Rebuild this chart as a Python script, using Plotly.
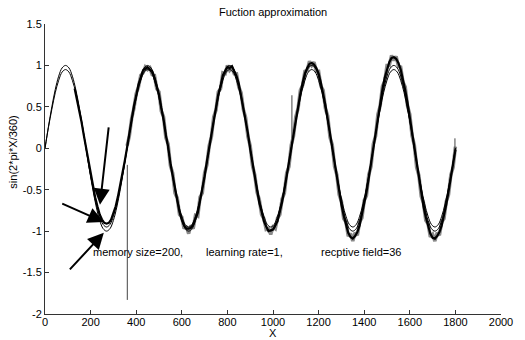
import plotly.graph_objects as go

# ---- data ----
x_fine = list(range(130, 1810, 10))        # 130..1800 step 10
approx_black = [
    0.72, 0.60, 0.47, 0.32, 0.16,
    0.00, -0.16, -0.31, -0.46, -0.59, -0.70, -0.80, -0.86, -0.90, -0.91, -0.90, -0.86, -0.79, -0.70, -0.58, -0.45, -0.30, -0.15,
    0.01, 0.18, 0.33, 0.51, 0.63, 0.77, 0.85, 0.94, 0.96, 0.98, 0.95, 0.93, 0.85, 0.76, 0.65, 0.49, 0.35, 0.16,
    0.02, -0.18, -0.33, -0.51, -0.63, -0.77, -0.86, -0.93, -0.97, -0.97, -0.96, -0.92, -0.85, -0.78, -0.63, -0.50, -0.34, -0.16,
    0.00, 0.17, 0.35, 0.49, 0.65, 0.75, 0.88, 0.93, 0.98, 0.97, 0.99, 0.93, 0.87, 0.78, 0.63, 0.51, 0.33, 0.18,
    -0.01, -0.17, -0.35, -0.49, -0.66, -0.76, -0.88, -0.94, -1.00, -0.99, -0.98, -0.93, -0.88, -0.76, -0.65, -0.50, -0.33, -0.18,
    0.01, 0.18, 0.34, 0.52, 0.66, 0.79, 0.90, 0.97, 1.02, 1.03, 1.01, 0.97, 0.90, 0.79, 0.66, 0.52, 0.35, 0.17,
    0.00, -0.18, -0.36, -0.52, -0.68, -0.81, -0.93, -1.02, -1.07, -1.09, -1.06, -1.01, -0.93, -0.80, -0.67, -0.53, -0.36, -0.18,
    0.01, 0.19, 0.37, 0.55, 0.71, 0.85, 0.96, 1.04, 1.09, 1.10, 1.08, 1.03, 0.95, 0.84, 0.70, 0.55, 0.37, 0.19,
    0.00, -0.19, -0.37, -0.54, -0.70, -0.83, -0.95, -1.03, -1.08, -1.09, -1.06, -1.01, -0.93, -0.81, -0.68, -0.52, -0.36, -0.19,
    -0.02,
]

x_grey = list(range(360, 1810, 10))        # 360..1800 step 10
approx_grey = [
    0.03, 0.15, 0.36, 0.48, 0.66, 0.74, 0.88, 0.91, 0.98, 0.95, 0.97, 0.89, 0.88, 0.72, 0.68, 0.45, 0.38, 0.13,
    0.05, -0.21, -0.30, -0.54, -0.60, -0.80, -0.83, -0.97, -0.94, -1.03, -0.93, -0.97, -0.81, -0.82, -0.59, -0.54, -0.30, -0.20,
    0.03, 0.14, 0.38, 0.46, 0.68, 0.72, 0.91, 0.90, 1.00, 0.94, 0.97, 0.90, 0.90, 0.74, 0.67, 0.47, 0.37, 0.14,
    0.03, -0.21, -0.32, -0.53, -0.62, -0.80, -0.85, -0.98, -0.97, -1.04, -0.95, -0.97, -0.84, -0.80, -0.61, -0.54, -0.30, -0.22,
    0.04, 0.15, 0.38, 0.48, 0.70, 0.76, 0.93, 0.94, 1.05, 1.00, 1.04, 0.93, 0.93, 0.75, 0.70, 0.48, 0.39, 0.13,
    0.04, -0.22, -0.32, -0.56, -0.64, -0.85, -0.89, -1.06, -1.03, -1.12, -1.02, -1.05, -0.89, -0.84, -0.63, -0.57, -0.32, -0.22,
    0.05, 0.15, 0.41, 0.51, 0.75, 0.81, 1.00, 1.00, 1.12, 1.06, 1.11, 0.99, 0.98, 0.80, 0.74, 0.51, 0.41, 0.15,
    0.04, -0.23, -0.33, -0.58, -0.66, -0.87, -0.91, -1.07, -1.04, -1.12, -1.02, -1.05, -0.89, -0.85, -0.64, -0.56, -0.32, -0.23,
    0.02,
]

x_smooth = list(range(0, 1801, 15))        # 0..1800 step 15
target_sine = [
    0, .26, .50, .71, .87, .97, 1.0, .97, .87, .71, .50, .26, 0, -.26, -.50, -.71, -.87, -.97, -1.0, -.97, -.87, -.71, -.50, -.26,
    0, .26, .50, .71, .87, .97, 1.0, .97, .87, .71, .50, .26, 0, -.26, -.50, -.71, -.87, -.97, -1.0, -.97, -.87, -.71, -.50, -.26,
    0, .26, .50, .71, .87, .97, 1.0, .97, .87, .71, .50, .26, 0, -.26, -.50, -.71, -.87, -.97, -1.0, -.97, -.87, -.71, -.50, -.26,
    0, .26, .50, .71, .87, .97, 1.0, .97, .87, .71, .50, .26, 0, -.26, -.50, -.71, -.87, -.97, -1.0, -.97, -.87, -.71, -.50, -.26,
    0, .26, .50, .71, .87, .97, 1.0, .97, .87, .71, .50, .26, 0, -.26, -.50, -.71, -.87, -.97, -1.0, -.97, -.87, -.71, -.50, -.26,
    0,
]
approx_thin = [
    0, .25, .47, .67, .82, .92, .95, .92, .82, .67, .47, .25, 0, -.25, -.47, -.67, -.82, -.92, -.95, -.92, -.82, -.67, -.47, -.25,
    0, .25, .47, .67, .82, .92, .95, .92, .82, .67, .47, .25, 0, -.25, -.47, -.67, -.82, -.92, -.95, -.92, -.82, -.67, -.47, -.25,
    0, .25, .47, .67, .82, .92, .95, .92, .82, .67, .47, .25, 0, -.25, -.47, -.67, -.82, -.92, -.95, -.92, -.82, -.67, -.47, -.25,
    0, .25, .47, .67, .82, .92, .95, .92, .82, .67, .47, .25, 0, -.25, -.47, -.67, -.82, -.92, -.95, -.92, -.82, -.67, -.47, -.25,
    0, .25, .47, .67, .82, .92, .95, .92, .82, .67, .47, .25, 0, -.25, -.47, -.67, -.82, -.92, -.95, -.92, -.82, -.67, -.47, -.25,
    0,
]

# isolated spikes in the approximation
spike_x = [361, 361, None, 1083, 1083, None, 1798, 1798]
spike_y = [-0.20, -1.83, None, 0.12, 0.64, None, -0.05, 0.12]

# arrows: (tail x, tail y, head x, head y)
arrow_tail_x = [280, 69, 103]
arrow_tail_y = [0.27, -0.66, -1.48]
arrow_head_x = [241, 258, 258]
arrow_head_y = [-0.68, -0.89, -1.02]

note_texts = ["memory size=200,", "learning rate=1,", "recptive field=36"]
note_x = [202, 697, 1200]
note_y = [-1.25, -1.25, -1.25]

x_ticks = [0, 200, 400, 600, 800, 1000, 1200, 1400, 1600, 1800, 2000]
y_ticks = [-2, -1.5, -1, -0.5, 0, 0.5, 1, 1.5]
y_tick_labels = ["-2", "-1.5", "-1", "-0.5", "0", "0.5", "1", "1.5"]

FONT = "Liberation Sans, Arial, Helvetica, sans-serif"

fig = go.Figure()
fig.add_trace(go.Scatter(x=x_grey, y=approx_grey, mode="lines",
                         line=dict(color="#8a8a8a", width=3.5), hoverinfo="skip"))
fig.add_trace(go.Scatter(x=x_fine, y=approx_black, mode="lines",
                         line=dict(color="#000000", width=2.2), hoverinfo="skip"))
fig.add_trace(go.Scatter(x=spike_x, y=spike_y, mode="lines",
                         line=dict(color="#444444", width=1), hoverinfo="skip"))
fig.add_trace(go.Scatter(x=x_smooth, y=target_sine, mode="lines", line_shape="spline",
                         line=dict(color="#000000", width=1), hoverinfo="skip"))
fig.add_trace(go.Scatter(x=x_smooth, y=approx_thin, mode="lines", line_shape="spline",
                         line=dict(color="#000000", width=1), hoverinfo="skip"))

annotations = []
for tx, ty, hx, hy in zip(arrow_tail_x, arrow_tail_y, arrow_head_x, arrow_head_y):
    annotations.append(dict(x=hx, y=hy, ax=tx, ay=ty, xref="x", yref="y", axref="x", ayref="y",
                            showarrow=True, arrowhead=2, arrowsize=1.6, arrowwidth=2,
                            arrowcolor="#000000", text=""))
for t, nx, ny in zip(note_texts, note_x, note_y):
    annotations.append(dict(x=nx, y=ny, xref="x", yref="y", text=t, showarrow=False,
                            xanchor="left", yanchor="middle", font=dict(size=11, color="#000")))
annotations.append(dict(x=277.5 / 525, y=1 - 12 / 340, xref="paper", yref="paper",
                        text="Fuction approximation", showarrow=False,
                        xanchor="center", yanchor="middle", font=dict(size=11, color="#000")))
annotations.append(dict(x=277.5 / 525, y=1 - 341 / 340, xref="paper", yref="paper",
                        text="X", showarrow=False,
                        xanchor="center", yanchor="bottom", font=dict(size=11, color="#000")))
annotations.append(dict(x=12 / 525, y=1 - 152 / 340, xref="paper", yref="paper",
                        text="sin(2*pi*X/360)", showarrow=False, textangle=-90,
                        xanchor="center", yanchor="middle", font=dict(size=11, color="#000")))
# convert figure-pixel based positions to plot-area paper coords
L, R, T, B = 45, 15, 24, 26
W, H = 525, 340
pw, ph = W - L - R, H - T - B
for a in annotations:
    if a.get("xref") == "paper":
        fx, fy = a["x"] * W, (1 - a["y"]) * H
        a["x"] = (fx - L) / pw
        a["y"] = 1 - (fy - T) / ph

fig.update_layout(
    width=W, height=H,
    margin=dict(l=L, r=R, t=T, b=B),
    paper_bgcolor="white", plot_bgcolor="white",
    showlegend=False,
    font=dict(family=FONT, size=11, color="#000"),
    annotations=annotations,
    xaxis=dict(range=[0, 2000], tickvals=x_ticks, ticks="inside", ticklen=4, tickcolor="#333",
               showline=True, linecolor="#333", linewidth=1, showgrid=False, zeroline=False,
               ticklabelstandoff=-2, tickfont=dict(size=11, color="#000")),
    yaxis=dict(range=[-2, 1.5], tickvals=y_ticks, ticktext=y_tick_labels, ticks="inside", ticklen=4,
               tickcolor="#333", showline=True, linecolor="#333", linewidth=1, showgrid=False,
               zeroline=False, tickfont=dict(size=11, color="#000")),
)

fig.write_html("out.html")
